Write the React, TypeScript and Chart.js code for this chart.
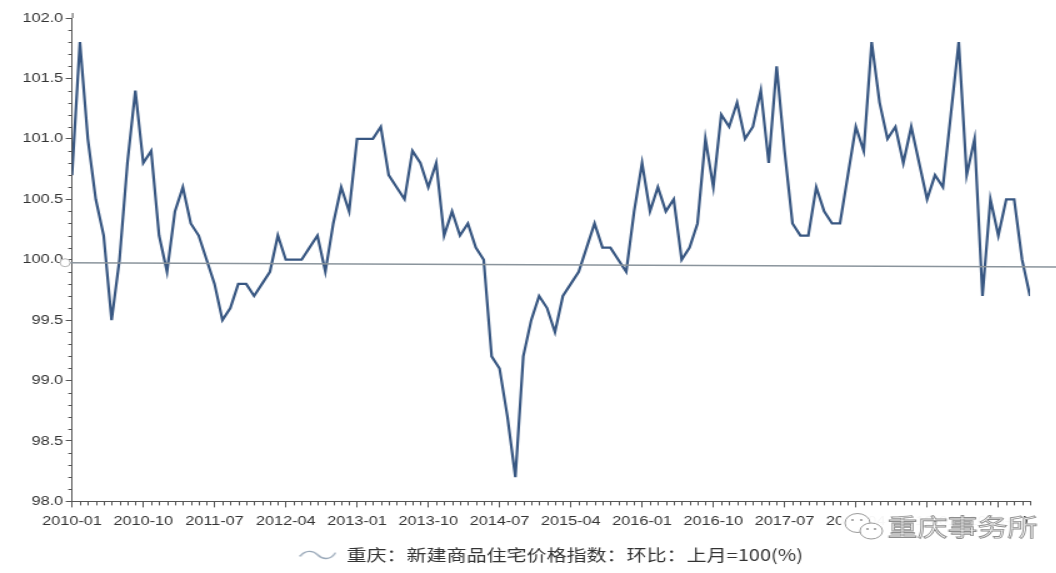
import React, { useEffect, useRef } from 'react';
import { Chart, registerables } from 'chart.js';

Chart.register(...registerables);

const SERIES_NAME = '重庆：新建商品住宅价格指数：环比：上月=100(%)';
const TICK_LABELS = [
  '2010-01', '2010-10', '2011-07', '2012-04', '2013-01', '2013-10', '2014-07',
  '2015-04', '2016-01', '2016-10', '2017-07', '2018-04', '2019-01', '2019-10',
];
const TICK_EVERY = 9; // months between labelled ticks
// monthly values from 2010-01
const VALUES = [
  100.7, 101.8, 101.0, 100.5, 100.2, 99.5, 100.0, 100.8, 101.4, 100.8,
  100.9, 100.2, 99.9, 100.4, 100.6, 100.3, 100.2, 100.0, 99.8, 99.5,
  99.6, 99.8, 99.8, 99.7, 99.8, 99.9, 100.2, 100.0, 100.0, 100.0,
  100.1, 100.2, 99.9, 100.3, 100.6, 100.4, 101.0, 101.0, 101.0, 101.1,
  100.7, 100.6, 100.5, 100.9, 100.8, 100.6, 100.8, 100.2, 100.4, 100.2,
  100.3, 100.1, 100.0, 99.2, 99.1, 98.7, 98.2, 99.2, 99.5, 99.7,
  99.6, 99.4, 99.7, 99.8, 99.9, 100.1, 100.3, 100.1, 100.1, 100.0,
  99.9, 100.4, 100.8, 100.4, 100.6, 100.4, 100.5, 100.0, 100.1, 100.3,
  101.0, 100.6, 101.2, 101.1, 101.3, 101.0, 101.1, 101.4, 100.8, 101.6,
  100.9, 100.3, 100.2, 100.2, 100.6, 100.4, 100.3, 100.3, 100.7, 101.1,
  100.9, 101.8, 101.3, 101.0, 101.1, 100.8, 101.1, 100.8, 100.5, 100.7,
  100.6, 101.2, 101.8, 100.7, 101.0, 99.7, 100.5, 100.2, 100.5, 100.5,
  100.0, 99.7,
];
const Y_MIN = 98;
const Y_MAX = 102;
const Y_STEP = 0.5;
const Y_MINOR = 0.1;
const REF_LINE = [99.975, 99.94]; // hand-drawn level line near 100 (left, right)
const WATERMARK = '重庆事务所';

const LINE_COLOR = '#385782';
const AXIS_COLOR = '#555555';
const TEXT_COLOR = '#333333';
const CJK = '"Noto Sans CJK SC", "Noto Sans", sans-serif';
const LATIN = '"Liberation Sans", Arial, sans-serif';

const W = 845;
const H = 573;
const STRETCH = 1.25;

function makeWave(): HTMLCanvasElement {
  const c = document.createElement('canvas');
  c.width = 30;
  c.height = 12;
  const g = c.getContext('2d')!;
  g.strokeStyle = '#9aa9b9';
  g.lineWidth = 1.4;
  g.lineCap = 'round';
  g.beginPath();
  g.moveTo(1, 7);
  g.bezierCurveTo(5, 1, 11, 1, 15, 6);
  g.bezierCurveTo(19, 11, 25, 11, 29, 4);
  g.stroke();
  return c;
}

const minorTicks = {
  id: 'minorTicks',
  afterDraw(chart: any) {
    const { ctx, chartArea } = chart;
    const x = chart.scales.x;
    const y = chart.scales.y;
    ctx.save();
    ctx.strokeStyle = AXIS_COLOR;
    ctx.lineWidth = 1;
    ctx.beginPath();
    for (let i = 0; i < VALUES.length; i++) {
      if (i % TICK_EVERY === 0) continue;
      const px = Math.round(x.getPixelForValue(i)) + 0.5;
      ctx.moveTo(px, chartArea.bottom);
      ctx.lineTo(px, chartArea.bottom + 4);
    }
    const n = Math.round((Y_MAX - Y_MIN) / Y_MINOR);
    const per = Math.round(Y_STEP / Y_MINOR);
    for (let k = 0; k <= n; k++) {
      if (k % per === 0) continue;
      const py = Math.round(y.getPixelForValue(Y_MIN + k * Y_MINOR)) + 0.5;
      ctx.moveTo(chartArea.left - 3, py);
      ctx.lineTo(chartArea.left, py);
    }
    // axis extends a little above the top tick
    ctx.moveTo(chartArea.left + 0.5, chartArea.top - 5);
    ctx.lineTo(chartArea.left + 0.5, chartArea.top);
    ctx.stroke();
    ctx.restore();
  },
};

const refLine = {
  id: 'refLine',
  afterDatasetsDraw(chart: any) {
    const { ctx, chartArea } = chart;
    const y = chart.scales.y;
    const x1 = chartArea.left - 5.5;
    const x2 = chart.width;
    const y1 = y.getPixelForValue(REF_LINE[0]);
    const y2 = y.getPixelForValue(REF_LINE[1]);
    ctx.save();
    ctx.strokeStyle = '#8a949c';
    ctx.lineWidth = 1.5;
    ctx.beginPath();
    ctx.moveTo(x1, y1);
    ctx.lineTo(x2, y2);
    ctx.stroke();
    ctx.beginPath();
    ctx.arc(x1, y1, 4, 0, Math.PI * 2);
    ctx.fillStyle = '#ffffff';
    ctx.fill();
    ctx.strokeStyle = '#b5b5b5';
    ctx.lineWidth = 1;
    ctx.stroke();
    ctx.restore();
  },
};

const watermark = {
  id: 'watermark',
  afterDraw(chart: any) {
    const { ctx } = chart;
    ctx.save();
    ctx.fillStyle = 'rgba(255,255,255,0.96)';
    ctx.fillRect(673, 508, 146, 38);
    // chat-bubble logo
    ctx.strokeStyle = '#9a9a9a';
    ctx.lineWidth = 1;
    ctx.fillStyle = '#ffffff';
    ctx.beginPath();
    ctx.ellipse(686, 523, 10, 9.5, 0, 0, Math.PI * 2);
    ctx.fill();
    ctx.stroke();
    ctx.beginPath();
    ctx.ellipse(697, 531, 9, 8, 0, 0, Math.PI * 2);
    ctx.fill();
    ctx.stroke();
    ctx.fillStyle = '#9a9a9a';
    [[682, 520], [689, 520], [694, 529], [700, 529]].forEach(([a, b]) => {
      ctx.beginPath();
      ctx.arc(a, b, 1.1, 0, Math.PI * 2);
      ctx.fill();
    });
    ctx.font = `24px ${CJK}`;
    ctx.textBaseline = 'middle';
    ctx.textAlign = 'left';
    ctx.fillStyle = '#ffffff';
    ctx.fillText(WATERMARK, 710, 527);
    ctx.strokeStyle = '#8d8d8d';
    ctx.lineWidth = 0.9;
    ctx.strokeText(WATERMARK, 710, 527);
    ctx.restore();
  },
};

export default function App() {
  const ref = useRef<HTMLCanvasElement | null>(null);

  useEffect(() => {
    document.body.style.margin = '0';
    const canvas = ref.current;
    if (!canvas) return;
    Chart.defaults.font.family = LATIN;
    const wave = makeWave();
    const chart = new Chart(canvas, {
      type: 'line',
      data: {
        datasets: [
          {
            label: SERIES_NAME,
            data: VALUES.map((v, i) => ({ x: i, y: v })),
            borderColor: LINE_COLOR,
            backgroundColor: LINE_COLOR,
            borderWidth: 2.2,
            pointRadius: 0,
            tension: 0,
            fill: false,
          },
        ],
      },
      options: {
        responsive: false,
        animation: false,
        devicePixelRatio: 1,
        events: [],
        layout: { padding: { top: 18, right: 21, left: 0, bottom: 0 } },
        scales: {
          x: {
            type: 'linear',
            min: 0,
            max: VALUES.length - 1,
            border: { color: AXIS_COLOR, width: 1 },
            grid: { drawOnChartArea: false, tickLength: 6, color: AXIS_COLOR },
            afterBuildTicks: (s: any) => {
              s.ticks = TICK_LABELS.map((_, i) => ({ value: i * TICK_EVERY }));
            },
            afterFit: (s: any) => {
              s.height = 39.6;
            },
            ticks: {
              autoSkip: false,
              maxRotation: 0,
              minRotation: 0,
              padding: 6,
              color: TEXT_COLOR,
              font: { size: 13, family: LATIN },
              callback: (v: any) => {
                const i = Number(v) / TICK_EVERY;
                return Number.isInteger(i) ? TICK_LABELS[i] : '';
              },
            },
          },
          y: {
            min: Y_MIN,
            max: Y_MAX,
            border: { color: AXIS_COLOR, width: 1 },
            grid: { drawOnChartArea: false, tickLength: 5, color: AXIS_COLOR },
            afterFit: (s: any) => {
              s.width = 57.6;
            },
            ticks: {
              stepSize: Y_STEP,
              padding: 2,
              color: TEXT_COLOR,
              font: { size: 13, family: LATIN },
              callback: (v: any) => Number(v).toFixed(1),
            },
          },
        },
        plugins: {
          tooltip: { enabled: false },
          legend: {
            display: true,
            position: 'bottom',
            fullSize: false,
            labels: {
              usePointStyle: true,
              pointStyle: wave as any,
              pointStyleWidth: 30,
              boxHeight: 16,
              padding: 6,
              color: TEXT_COLOR,
              font: { size: 16, family: CJK },
            },
          },
        },
      },
      plugins: [refLine, minorTicks, watermark],
    } as any);
    return () => chart.destroy();
  }, []);

  return (
    <div
      style={{
        position: 'absolute',
        left: 0,
        top: 0,
        width: 1056,
        height: H,
        overflow: 'hidden',
        background: '#ffffff',
      }}
    >
      <div style={{ width: W, height: H, transform: `scaleX(${STRETCH})`, transformOrigin: '0 0' }}>
        <canvas ref={ref} width={W} height={H} style={{ width: W, height: H, display: 'block' }} />
      </div>
    </div>
  );
}
